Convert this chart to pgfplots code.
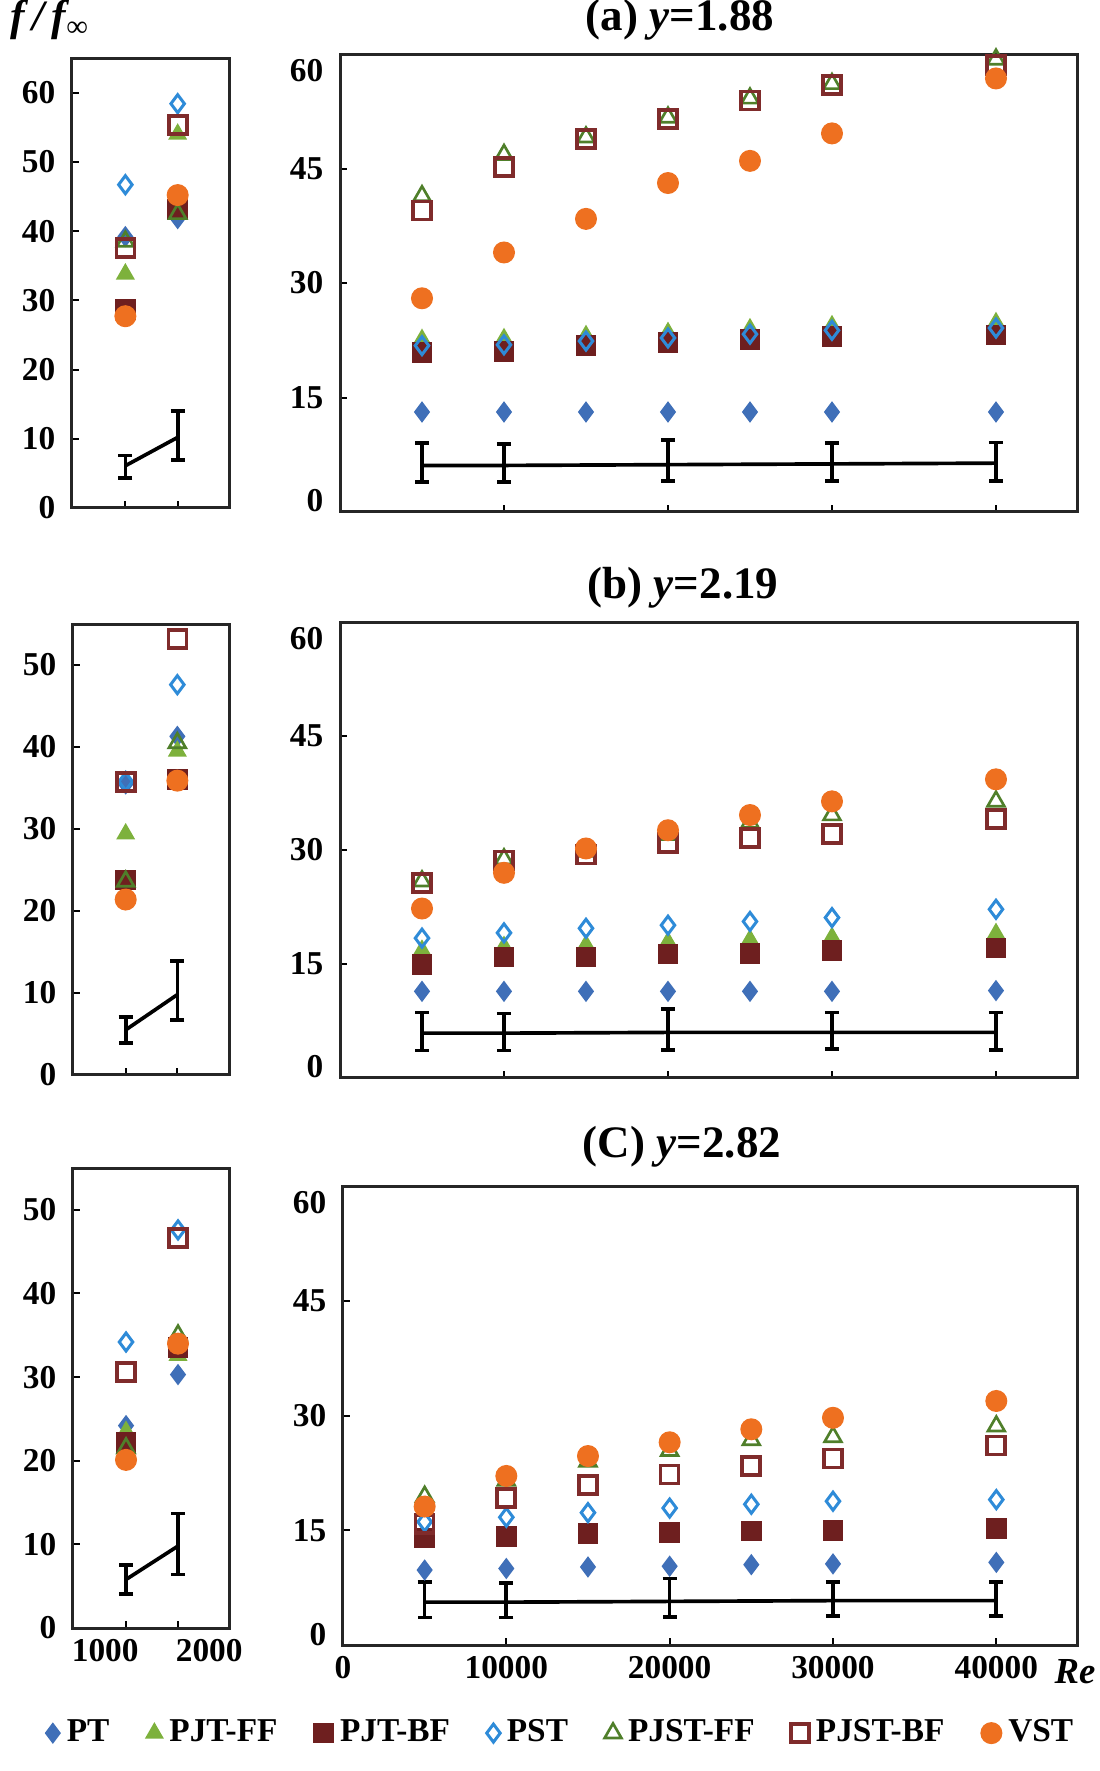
\documentclass[border=0pt]{standalone}
\usepackage{fontspec}
\setmainfont{Liberation Serif}
\usepackage{pgfplots}
\pgfplotsset{compat=1.18}
\definecolor{cPT}{HTML}{3F6FB8}
\definecolor{cPJTFF}{HTML}{7DB13C}
\definecolor{cPJTBF}{HTML}{6E1F1F}
\definecolor{cPST}{HTML}{2E8BD8}
\definecolor{cPJSTFF}{HTML}{4F7F2A}
\definecolor{cPJSTBF}{HTML}{7F2B2B}
\definecolor{cVST}{HTML}{EE7020}
\pgfplotsset{
 sPT/.style={only marks, mark=diamond*, mark size=2.9pt, color=cPT},
 sPJTFF/.style={only marks, mark=triangle*, mark size=2.9pt, color=cPJTFF},
 sPJTBF/.style={only marks, mark=square*, mark size=2.9pt, color=cPJTBF},
 sPST/.style={only marks, mark=diamond, mark size=2.7pt, color=cPST, mark options={line width=0.9pt}},
 sPJSTFF/.style={only marks, mark=triangle, mark size=2.9pt, color=cPJSTFF, mark options={line width=0.8pt}},
 sPJSTBF/.style={only marks, mark=square, mark size=2.7pt, color=cPJSTBF, mark options={line width=1.1pt}},
 sVST/.style={only marks, mark=*, mark size=3.1pt, color=cVST},
 serr/.style={black, line width=1.1pt, no marks, forget plot, error bars/.cd, y dir=both, y explicit, error bar style={line width=1.1pt}, error mark options={rotate=90, mark size=2.1pt, line width=1.1pt}},
 base/.style={scale only axis, anchor=south west, axis line style={line width=0.9pt, black!85},
   tick align=inside, xtick pos=bottom, ytick pos=left, major tick length=2pt,
   tick style={black, line width=0.6pt},
   ticklabel style={font=\bfseries\fontsize{10}{12}\selectfont},
   yticklabel style={xshift=-1.5pt},
   /pgf/number format/assume math mode=true, /pgf/number format/1000 sep={},
   scaled x ticks=false, scaled y ticks=false, clip=false},
 leftax/.style={base, xmin=690, xmax=2200, ymin=0, xtick={1200,1700}, xticklabels={}},
 rightax/.style={base, xmin=0, xmax=45000, ymin=0, ymax=60, xtick={0,10000,20000,30000,40000}, ytick={0,15,30,45,60},
   yticklabels={\raisebox{0pt}[0pt][0pt]{0},15,30,45,\raisebox{-8.3pt}[0pt][0pt]{60}}},
}
\begin{document}
\begin{tikzpicture}
\path[use as bounding box] (0,0) rectangle (330pt,531.3pt);
% ---------------- (a) left
\begin{axis}[leftax, at={(21.6pt,378.9pt)}, width=47.4pt, height=135pt, ymax=65, ytick={0,10,...,60}]
\addplot[sPT] coordinates {(1200,39.2) (1700,41.8)};
\addplot[sPJTFF] coordinates {(1200,33.8) (1700,54.0)};
\addplot[sPJTBF] coordinates {(1200,28.7) (1700,43.1)};
\addplot[sPST] coordinates {(1200,46.7) (1700,58.4)};
\addplot[sPJSTFF] coordinates {(1200,38.5) (1700,42.5)};
\addplot[sPJSTBF] coordinates {(1200,37.6) (1700,55.3)};
\addplot[sVST] coordinates {(1200,27.7) (1700,45.2)};
\addplot[serr] coordinates {(1200,6.1) += (0,1.5) -= (0,1.8) (1700,10.2) += (0,3.8) -= (0,3.3)};
\end{axis}
% ---------------- (a) right
\begin{axis}[rightax, at={(102pt,377.7pt)}, width=221.4pt, height=137.4pt, xticklabels={}]
\addplot[sPT] coordinates {(5000,13.1) (10000,13.1) (15000,13.1) (20000,13.1) (25000,13.1) (30000,13.1) (40000,13.1)};
\addplot[sPJTFF] coordinates {(5000,22.6) (10000,22.7) (15000,23.1) (20000,23.5) (25000,24.0) (30000,24.4) (40000,24.8)};
\addplot[sPJTBF] coordinates {(5000,20.9) (10000,21.0) (15000,21.8) (20000,22.2) (25000,22.6) (30000,23.0) (40000,23.2)};
\addplot[sPST] coordinates {(5000,21.8) (10000,21.9) (15000,22.4) (20000,22.8) (25000,23.3) (30000,23.8) (40000,24.1)};
\addplot[sPJSTFF] coordinates {(5000,41.4) (10000,46.8) (15000,49.1) (20000,51.7) (25000,54.2) (30000,56.1) (40000,59.3)};
\addplot[sPJSTBF] coordinates {(5000,39.5) (10000,45.2) (15000,48.9) (20000,51.5) (25000,53.9) (30000,55.9) (40000,58.6)};
\addplot[sVST] coordinates {(5000,28.0) (10000,34.0) (15000,38.4) (20000,43.1) (25000,46.0) (30000,49.6) (40000,56.8)};
\addplot[serr] coordinates {(5000,6.1) += (0,2.9) -= (0,2.2) (10000,6.1) += (0,2.8) -= (0,2.2) (20000,6.2) += (0,3.2) -= (0,2.1) (30000,6.3) += (0,2.7) -= (0,2.2) (40000,6.4) += (0,2.7) -= (0,2.3)};
\end{axis}
% ---------------- (b) left
\begin{axis}[leftax, at={(21.9pt,208.8pt)}, width=46.8pt, height=135.3pt, ymax=55, ytick={0,10,...,50}]
\addplot[sPT] coordinates {(1200,35.5) (1700,41.3)};
\addplot[sPJTFF] coordinates {(1200,29.4) (1700,39.5)};
\addplot[sPJTBF] coordinates {(1200,23.8) (1700,36.0)};
\addplot[sPST] coordinates {(1200,35.8) (1700,47.6)};
\addplot[sPJSTFF] coordinates {(1200,23.6) (1700,40.5)};
\addplot[sPJSTBF] coordinates {(1200,35.7) (1700,53.2)};
\addplot[sVST] coordinates {(1200,21.4) (1700,35.9)};
\addplot[serr] coordinates {(1200,5.5) += (0,1.6) -= (0,1.6) (1700,9.8) += (0,4.1) -= (0,3.1)};
\end{axis}
% ---------------- (b) right
\begin{axis}[rightax, at={(102pt,207.9pt)}, width=221.4pt, height=136.8pt, xticklabels={}]
\addplot[sPT] coordinates {(5000,11.4) (10000,11.4) (15000,11.4) (20000,11.4) (25000,11.4) (30000,11.4) (40000,11.5)};
\addplot[sPJTFF] coordinates {(5000,16.8) (10000,17.3) (15000,17.5) (20000,17.9) (25000,18.2) (30000,18.5) (40000,19.0)};
\addplot[sPJTBF] coordinates {(5000,14.9) (10000,15.9) (15000,15.9) (20000,16.3) (25000,16.4) (30000,16.8) (40000,17.1)};
\addplot[sPST] coordinates {(5000,18.4) (10000,19.1) (15000,19.7) (20000,20.1) (25000,20.6) (30000,21.1) (40000,22.2)};
\addplot[sPJSTFF] coordinates {(5000,25.9) (10000,28.8) (15000,29.8) (20000,32.0) (25000,33.6) (30000,34.6) (40000,36.4)};
\addplot[sPJSTBF] coordinates {(5000,25.7) (10000,28.6) (15000,29.4) (20000,30.9) (25000,31.6) (30000,32.1) (40000,34.1)};
\addplot[sVST] coordinates {(5000,22.3) (10000,27.0) (15000,30.2) (20000,32.6) (25000,34.6) (30000,36.4) (40000,39.3)};
\addplot[serr] coordinates {(5000,5.9) += (0,2.7) -= (0,2.3) (10000,5.9) += (0,2.6) -= (0,2.3) (20000,6.0) += (0,3.1) -= (0,2.3) (30000,6.0) += (0,2.6) -= (0,2.2) (40000,6.0) += (0,2.6) -= (0,2.3)};
\end{axis}
% ---------------- (c) left
\begin{axis}[leftax, at={(21.9pt,42.9pt)}, width=47.1pt, height=138pt, ymax=55, ytick={0,10,...,50},
  extra x ticks={1000,2000}, extra x tick labels={1000,2000}, extra x tick style={major tick length=0pt}]
\addplot[sPT] coordinates {(1200,24.2) (1700,30.3)};
\addplot[sPJTFF] coordinates {(1200,23.5) (1700,32.6)};
\addplot[sPJTBF] coordinates {(1200,22.2) (1700,33.5)};
\addplot[sPST] coordinates {(1200,34.2) (1700,47.6)};
\addplot[sPJSTFF] coordinates {(1200,21.5) (1700,35.0)};
\addplot[sPJSTBF] coordinates {(1200,30.6) (1700,46.6)};
\addplot[sVST] coordinates {(1200,20.1) (1700,34.0)};
\addplot[serr] coordinates {(1200,5.8) += (0,1.7) -= (0,1.7) (1700,9.8) += (0,3.9) -= (0,3.4)};
\end{axis}
% ---------------- (c) right
\begin{axis}[rightax, at={(102.9pt,37.8pt)}, width=220.5pt, height=137.7pt,
  xticklabels={0,10000,20000,30000,40000},
  legend columns=7,
  legend style={at={(0.299,-0.192)}, anchor=center, draw=none, fill=none,
    font=\bfseries\fontsize{10}{12}\selectfont,
    /tikz/every even column/.append style={column sep=9pt}},
  legend cell align=left]
\addplot[sPT] coordinates {(5000,9.8) (10000,10.0) (15000,10.2) (20000,10.3) (25000,10.5) (30000,10.6) (40000,10.8)};
\addlegendentry{PT}
\addplot[sPJTFF] coordinates {(5000,13.8) (10000,14.0) (15000,14.3) (20000,14.4) (25000,14.6) (30000,14.7) (40000,14.9)};
\addlegendentry{PJT-FF}
\addplot[sPJTBF] coordinates {(5000,14.0) (10000,14.2) (15000,14.6) (20000,14.7) (25000,14.9) (30000,15.0) (40000,15.2)};
\addlegendentry{PJT-BF}
\addplot[sPST] coordinates {(5000,16.1) (10000,16.7) (15000,17.3) (20000,17.9) (25000,18.4) (30000,18.8) (40000,19.0)};
\addlegendentry{PST}
\addplot[sPJSTFF] coordinates {(5000,19.4) (10000,21.5) (15000,24.0) (20000,25.4) (25000,26.8) (30000,27.2) (40000,28.6)};
\addlegendentry{PJST-FF}
\addplot[sPJSTBF] coordinates {(5000,15.8) (10000,19.2) (15000,20.9) (20000,22.3) (25000,23.4) (30000,24.4) (40000,26.1)};
\addlegendentry{PJST-BF}
\addplot[sVST] coordinates {(5000,18.1) (10000,22.1) (15000,24.7) (20000,26.5) (25000,28.2) (30000,29.7) (40000,31.9)};
\addlegendentry{VST}
\addplot[serr] coordinates {(5000,5.6) += (0,2.6) -= (0,2.0) (10000,5.6) += (0,2.5) -= (0,2.0) (20000,5.7) += (0,3.0) -= (0,2.0) (30000,5.8) += (0,2.4) -= (0,2.0) (40000,5.8) += (0,2.4) -= (0,2.0)};
\end{axis}
% ---------------- texts
\node[font=\bfseries\itshape\fontsize{13}{15}\selectfont] at (15pt,525.3pt) {f\,/\,f\textsubscript{∞}};
\node[font=\bfseries\fontsize{13.5}{16}\selectfont] at (204pt,525.3pt) {(a) \textit{y}=1.88};
\node[font=\bfseries\fontsize{13.5}{16}\selectfont] at (204.9pt,355.05pt) {(b) \textit{y}=2.19};
\node[font=\bfseries\fontsize{13.5}{16}\selectfont] at (204.6pt,187.2pt) {(C) \textit{y}=2.82};
\node[font=\bfseries\itshape\fontsize{11}{13}\selectfont] at (322.5pt,29.7pt) {Re};
\end{tikzpicture}
\end{document}
